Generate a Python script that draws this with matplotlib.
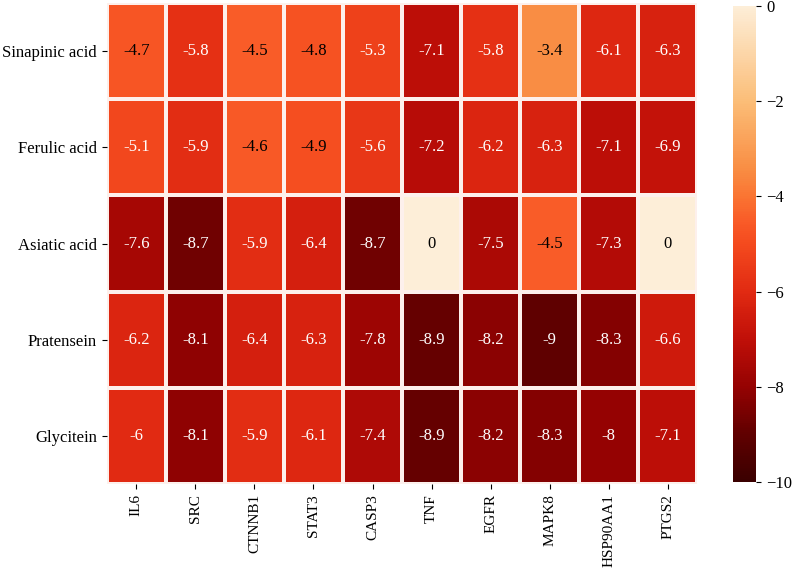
import numpy as np
import matplotlib
matplotlib.use("Agg")
import matplotlib.pyplot as plt
from matplotlib.colors import LinearSegmentedColormap

compounds = ["Sinapinic acid", "Ferulic acid", "Asiatic acid", "Pratensein", "Glycitein"]
targets = ["IL6", "SRC", "CTNNB1", "STAT3", "CASP3", "TNF", "EGFR", "MAPK8", "HSP90AA1", "PTGS2"]
sinapinic = [-4.7, -5.8, -4.5, -4.8, -5.3, -7.1, -5.8, -3.4, -6.1, -6.3]
ferulic = [-5.1, -5.9, -4.6, -4.9, -5.6, -7.2, -6.2, -6.3, -7.1, -6.9]
asiatic = [-7.6, -8.7, -5.9, -6.4, -8.7, 0, -7.5, -4.5, -7.3, 0]
pratensein = [-6.2, -8.1, -6.4, -6.3, -7.8, -8.9, -8.2, -9, -8.3, -6.6]
glycitein = [-6, -8.1, -5.9, -6.1, -7.4, -8.9, -8.2, -8.3, -8, -7.1]

data = np.array([sinapinic, ferulic, asiatic, pratensein, glycitein])

plt.rcParams['font.family'] = ['Liberation Serif', 'DejaVu Serif']

anchors = [(0.0, "#3a0000"), (0.1, "#600000"), (0.2, "#950202"), (0.3, "#c00f08"),
           (0.4, "#e12a12"), (0.5, "#f44a1e"), (0.55, "#f95c28"), (0.6, "#fa7432"),
           (0.66, "#f98e44"), (0.8, "#fbbd77"), (1.0, "#fdeed8")]
cmap = LinearSegmentedColormap.from_list("dock", anchors)

fig = plt.figure(figsize=(7.97, 5.71), dpi=100)
ax = fig.add_axes([0.134, 0.152, 0.741, 0.843])
cax = fig.add_axes([0.92, 0.155, 0.029, 0.835])

nr, nc = data.shape
mesh = ax.pcolormesh(np.arange(nc + 1), np.arange(nr + 1), data, cmap=cmap,
                     vmin=-10, vmax=0, edgecolor="#fdf0ec", linewidth=1.5)
ax.set_xlim(0, nc)
ax.set_ylim(nr, 0)
for i in range(nr):
    for j in range(nc):
        v = data[i, j]
        col = "black" if v > -5 else "white"
        ax.text(j + 0.5, i + 0.5, "%g" % v, ha="center", va="center",
                color=col, fontsize=12)

ax.set_xticks(np.arange(nc) + 0.5)
ax.set_xticklabels(targets, rotation=90, fontsize=11)
ax.set_yticks(np.arange(nr) + 0.5)
ax.set_yticklabels(compounds, fontsize=12)
for s in ax.spines.values():
    s.set_visible(False)

cb = fig.colorbar(mesh, cax=cax)
cb.set_ticks([0, -2, -4, -6, -8, -10])
cb.ax.tick_params(labelsize=12)
cb.outline.set_visible(False)

fig.savefig("out.png", dpi=100)
